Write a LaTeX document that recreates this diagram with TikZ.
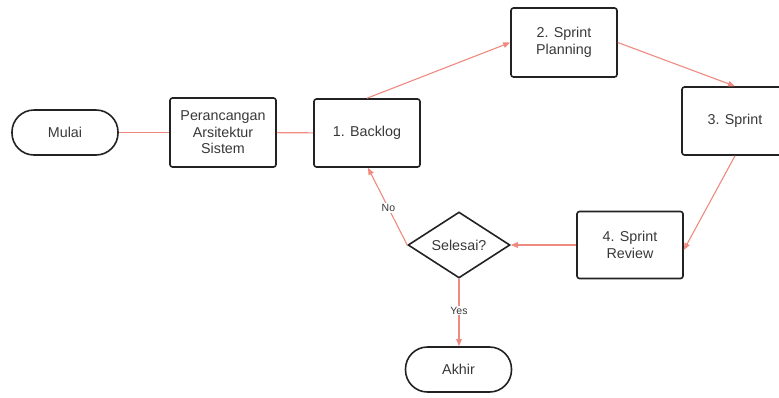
\documentclass[tikz,border=0pt]{standalone}
\usepackage{fontspec}
\setmainfont{Liberation Sans}
\usetikzlibrary{shapes.geometric,arrows.meta}
\definecolor{flowline}{RGB}{238,138,128}
\definecolor{boxline}{RGB}{34,34,34}
\begin{document}
\begin{tikzpicture}[x=1pt,y=-1pt,
  every node/.style={font=\fontsize{14.3}{16.5}\selectfont, text=boxline!90, align=center},
  stepbox/.style={draw=boxline, line width=1.6pt, rounded corners=2.5pt,
    minimum width=106pt, inner sep=0pt},
  terminal/.style={draw=boxline, line width=1.6pt, rounded corners=22pt,
    minimum width=106pt, minimum height=45pt, inner sep=0pt},
  decision/.style={draw=boxline, line width=1.6pt, diamond, inner sep=0pt,
    minimum width=102pt, minimum height=66pt},
  flow/.style={draw=flowline, line width=1.1pt},
  flowarrow/.style={flow, -{Triangle[length=7pt,width=5.5pt]}},
  edgelabel/.style={font=\fontsize{10.5}{12}\selectfont, fill=white, inner sep=1pt}
]
\useasboundingbox (0,0) rectangle (779,397);

% nodes
\node[terminal] (mulai) at (65,132.5) {Mulai};
\node[stepbox, minimum height=69pt] (rancang) at (223,132.5) {Perancangan\\Arsitektur\\Sistem};
\node[stepbox, minimum height=68pt] (backlog) at (367,133) {1. Backlog};
\node[stepbox, minimum height=69pt] (plan) at (564,42.5) {2. Sprint\\Planning};
\node[stepbox, minimum height=68pt] (sprint) at (735,121) {3. Sprint};
\node[stepbox, minimum height=67pt] (review) at (630,245) {4. Sprint\\Review};
\node[decision] (selesai) at (459,245) {Selesai?};
\node[terminal] (akhir) at (458.5,369.5) {Akhir};

% connectors
\draw[flow] (mulai) -- (rancang);
\draw[flow] (rancang) -- (backlog);
\draw[flowarrow] (backlog.north) -- (plan.west);
\draw[flowarrow] (plan.east) -- (sprint.north);
\draw[flowarrow] (sprint.south) -- ([yshift=-5pt]review.east);
\draw[flowarrow] (review.west) -- (selesai.east);
\draw[flowarrow] (selesai.west) -- node[edgelabel, pos=0.48] (no) {No} ([xshift=1pt]backlog.south);
\draw[flowarrow] (selesai.south) -- node[edgelabel, pos=0.47] (yes) {Yes} (selesai.south |- akhir.north);
\end{tikzpicture}
\end{document}
